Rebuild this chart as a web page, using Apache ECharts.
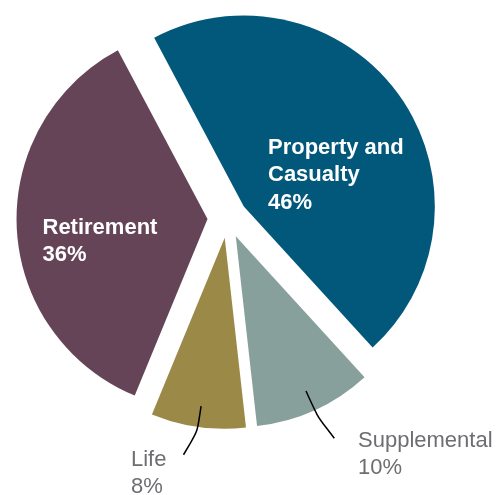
<!DOCTYPE html>
<html>
<head>
<meta charset="utf-8">
<script src="https://cdn.jsdelivr.net/npm/echarts@6/dist/echarts.min.js"></script>
<style>
html,body{margin:0;padding:0;background:#fff;}
#chart{width:496px;height:495px;}
</style>
</head>
<body>
<div id="chart"></div>
<script>
// ---- data ----
const categories = ['Property and Casualty', 'Supplemental', 'Life', 'Retirement'];
const shares = [46, 10, 8, 36];
const labelLines = ['Property and\nCasualty', 'Supplemental', 'Life', 'Retirement'];
const colors = ['#02587a', '#87a09b', '#9b8947', '#654458'];
const insideLabel = [true, false, false, true];

// ---- geometry / style ----
const CX = 227.5, CY = 218, R = 191, OFF = 20, START = 118;
const total = shares.reduce((a, b) => a + b, 0);
function midDir(i) {
  let cum = 0;
  for (let k = 0; k < i; k++) cum += shares[k];
  const a = (START - 360 * (cum + shares[i] / 2) / total) * Math.PI / 180;
  return [Math.cos(a), -Math.sin(a)];
}
const labelPos = {
  0: { x: 268, y: 175 },
  3: { x: 42.5, y: 241.5 },
  1: { x: 358, y: 454.5, len: 42, hook: [11, 9] },
  2: { x: 131, y: 473, len: 40, hook: [-12, 9] }
};

const chart = echarts.init(document.getElementById('chart'), null, { renderer: 'canvas' });

// one pie series per slice, each exploded along its own bisector
const series = categories.map((_, s) => {
  const d = midDir(s);
  return {
    type: 'pie',
    center: [CX + OFF * d[0], CY + OFF * d[1]],
    radius: R,
    startAngle: START,
    clockwise: true,
    silent: true,
    z: 2,
    label: { show: false },
    labelLine: { show: false },
    data: categories.map((name, i) => ({
      name: name,
      value: shares[i],
      itemStyle: { color: i === s ? colors[i] : 'rgba(0,0,0,0)' }
    }))
  };
});

// overlay series (transparent slices) carrying all labels and leader lines on top
series.push({
  type: 'pie',
  center: [CX, CY],
  radius: R,
  startAngle: START,
  clockwise: true,
  avoidLabelOverlap: false,
  silent: true,
  z: 5,
  itemStyle: { color: 'rgba(0,0,0,0)' },
  label: {
    show: true,
    fontFamily: 'Liberation Sans, Arial, sans-serif',
    formatter: p => labelLines[p.dataIndex] + '\n' + p.value + '%'
  },
  labelLine: {
    show: true,
    smooth: 1,
    lineStyle: { color: '#000000', width: 1.5 }
  },
  labelLayout: function (params) {
    const i = params.dataIndex;
    const lp = labelPos[i];
    const out = { x: lp.x, y: lp.y, align: 'left', verticalAlign: 'middle' };
    if (!insideLabel[i]) {
      const dd = midDir(i);
      const rr = OFF + R * 0.89;
      const p0 = [CX + rr * dd[0], CY + rr * dd[1]];
      const p1 = [p0[0] + lp.len * dd[0], p0[1] + lp.len * dd[1]];
      const p2 = [p1[0] + lp.hook[0], p1[1] + lp.hook[1]];
      out.labelLinePoints = [p0, p1, p2];
    }
    return out;
  },
  data: categories.map((name, i) => ({
    name: name,
    value: shares[i],
    label: insideLabel[i] ? {
      color: '#ffffff', fontWeight: 'bold', fontSize: 22, lineHeight: 27.5
    } : {
      color: '#6d6e71', fontWeight: 'normal', fontSize: 22, lineHeight: 27
    },
    labelLine: { show: !insideLabel[i] }
  }))
});

chart.setOption({
  animation: false,
  backgroundColor: '#ffffff',
  series: series
});
</script>
</body>
</html>
